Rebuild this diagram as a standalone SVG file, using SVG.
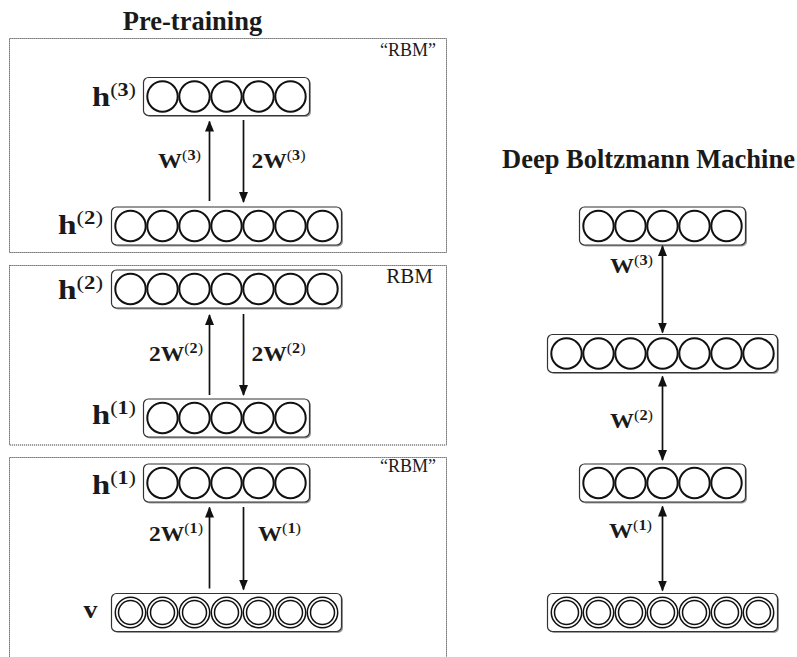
<svg xmlns="http://www.w3.org/2000/svg" xmlns:xlink="http://www.w3.org/1999/xlink" width="797" height="657" viewBox="0 0 797 657">
<style>
.frame{fill:none;stroke:#444;stroke-width:1;stroke-dasharray:1.2 0.8}
.bar{fill:#fff;stroke:#333;stroke-width:1.2}
.shadow{fill:#9a9a9a}
.u{fill:#fff;stroke:#111;stroke-width:2}
.vo{fill:#fff;stroke:#111;stroke-width:1.5}
.vi{fill:none;stroke:#111;stroke-width:1.5}
.t{font-family:"Liberation Serif","Times New Roman",serif;font-weight:bold;fill:#1a1a1a}
.title{font-size:26.5px;text-anchor:middle}
.hl{font-size:28px;text-anchor:end}
.hs{font-size:19px}
.wl{font-size:22px}
.ws{font-size:15px}
.n{font-weight:normal}
.rbm{font-family:"Liberation Serif","Times New Roman",serif;font-weight:normal;fill:#1a1a1a;text-anchor:end}
.edge{stroke:#111;stroke-width:1.7;fill:none}
.one{marker-end:url(#ah)}
.two{marker-start:url(#ah);marker-end:url(#ah)}
</style>
<defs>
<marker id="ah" markerUnits="userSpaceOnUse" markerWidth="11" markerHeight="9" refX="10" refY="4.5" orient="auto-start-reverse">
<path d="M0,0 L11,4.5 L0,9 z" fill="#111"/>
</marker>
<g id="bar5">
<rect class="shadow" x="1.5" y="1.5" width="166" height="38" rx="5"/>
<rect class="bar" x="0" y="0" width="166" height="38" rx="5"/>
<circle class="u" cx="19" cy="19" r="15.2"/><circle class="u" cx="51" cy="19" r="15.2"/><circle class="u" cx="83" cy="19" r="15.2"/><circle class="u" cx="115" cy="19" r="15.2"/><circle class="u" cx="147" cy="19" r="15.2"/>
</g>
<g id="bar7">
<rect class="shadow" x="1.5" y="1.5" width="230" height="38" rx="5"/>
<rect class="bar" x="0" y="0" width="230" height="38" rx="5"/>
<circle class="u" cx="19" cy="19" r="15.2"/><circle class="u" cx="51" cy="19" r="15.2"/><circle class="u" cx="83" cy="19" r="15.2"/><circle class="u" cx="115" cy="19" r="15.2"/><circle class="u" cx="147" cy="19" r="15.2"/><circle class="u" cx="179" cy="19" r="15.2"/><circle class="u" cx="211" cy="19" r="15.2"/>
</g>
<g id="vbar7">
<rect class="shadow" x="1.5" y="1.5" width="230" height="38" rx="5"/>
<rect class="bar" x="0" y="0" width="230" height="38" rx="5"/>
<circle class="vo" cx="19" cy="19" r="15.2"/><circle class="vi" cx="19" cy="19" r="12"/>
<circle class="vo" cx="51" cy="19" r="15.2"/><circle class="vi" cx="51" cy="19" r="12"/>
<circle class="vo" cx="83" cy="19" r="15.2"/><circle class="vi" cx="83" cy="19" r="12"/>
<circle class="vo" cx="115" cy="19" r="15.2"/><circle class="vi" cx="115" cy="19" r="12"/>
<circle class="vo" cx="147" cy="19" r="15.2"/><circle class="vi" cx="147" cy="19" r="12"/>
<circle class="vo" cx="179" cy="19" r="15.2"/><circle class="vi" cx="179" cy="19" r="12"/>
<circle class="vo" cx="211" cy="19" r="15.2"/><circle class="vi" cx="211" cy="19" r="12"/>
</g>
</defs>
<rect width="797" height="657" fill="#fff"/>

<g id="titles">
<text class="t title" x="192.5" y="30">Pre-training</text>
<text class="t title" x="648.5" y="168">Deep Boltzmann Machine</text>
</g>

<g id="frames">
<rect class="frame" x="9.5" y="38.5" width="437" height="214"/>
<rect class="frame" x="9.5" y="265.5" width="437" height="179.5"/>
<rect class="frame" x="9.5" y="457.5" width="437" height="215"/>
<text class="rbm" x="436" y="56" font-size="18">“RBM”</text>
<text class="rbm" x="433" y="283" font-size="21">RBM</text>
<text class="rbm" x="436" y="472" font-size="18">“RBM”</text>
</g>

<g id="p1-h3"><use xlink:href="#bar5" x="143.5" y="77.5"/>
<text class="t hl" x="136" y="106" textLength="44" lengthAdjust="spacingAndGlyphs">h<tspan class="hs" dy="-10"><tspan class="n">(</tspan>3<tspan class="n">)</tspan></tspan></text></g>
<g id="p1-h2"><use xlink:href="#bar7" x="111.5" y="207"/>
<text class="t hl" x="103" y="234" textLength="45" lengthAdjust="spacingAndGlyphs">h<tspan class="hs" dy="-10"><tspan class="n">(</tspan>2<tspan class="n">)</tspan></tspan></text></g>
<g id="p2-h2"><use xlink:href="#bar7" x="111.5" y="270"/>
<text class="t hl" x="103" y="299" textLength="45" lengthAdjust="spacingAndGlyphs">h<tspan class="hs" dy="-10"><tspan class="n">(</tspan>2<tspan class="n">)</tspan></tspan></text></g>
<g id="p2-h1"><use xlink:href="#bar5" x="143.5" y="399"/>
<text class="t hl" x="136" y="424" textLength="44" lengthAdjust="spacingAndGlyphs">h<tspan class="hs" dy="-10"><tspan class="n">(</tspan>1<tspan class="n">)</tspan></tspan></text></g>
<g id="p3-h1"><use xlink:href="#bar5" x="143.5" y="464"/>
<text class="t hl" x="136" y="494" textLength="44" lengthAdjust="spacingAndGlyphs">h<tspan class="hs" dy="-10"><tspan class="n">(</tspan>1<tspan class="n">)</tspan></tspan></text></g>
<g id="p3-v"><use xlink:href="#vbar7" x="111.5" y="593.5"/>
<text class="t hl" x="97.5" y="618" style="font-size:25px" textLength="14" lengthAdjust="spacingAndGlyphs">v</text></g>

<g id="dbm-h3"><use xlink:href="#bar5" x="579.5" y="207"/></g>
<g id="dbm-h2"><use xlink:href="#bar7" x="547.5" y="334.5"/></g>
<g id="dbm-h1"><use xlink:href="#bar5" x="579.5" y="464"/></g>
<g id="dbm-v"><use xlink:href="#vbar7" x="547.5" y="593.5"/></g>

<g id="connectors">
<line class="edge one" x1="209.5" y1="201" x2="209.5" y2="121.5"/>
<line class="edge one" x1="243.5" y1="120" x2="243.5" y2="202"/>
<line class="edge one" x1="209.5" y1="395" x2="209.5" y2="315"/>
<line class="edge one" x1="243.5" y1="314" x2="243.5" y2="395"/>
<line class="edge one" x1="209.5" y1="588.5" x2="209.5" y2="507.5"/>
<line class="edge one" x1="243.5" y1="507" x2="243.5" y2="589.5"/>
<line class="edge two" x1="662.5" y1="246" x2="662.5" y2="332.5"/>
<line class="edge two" x1="662.5" y1="376.5" x2="662.5" y2="460"/>
<line class="edge two" x1="662.5" y1="506.5" x2="662.5" y2="590.5"/>
<text class="t wl" x="201" y="168" text-anchor="end" textLength="43" lengthAdjust="spacingAndGlyphs">W<tspan class="ws" dy="-8"><tspan class="n">(</tspan>3<tspan class="n">)</tspan></tspan></text>
<text class="t wl" x="251.5" y="168" textLength="54" lengthAdjust="spacingAndGlyphs">2W<tspan class="ws" dy="-8"><tspan class="n">(</tspan>3<tspan class="n">)</tspan></tspan></text>
<text class="t wl" x="203" y="361" text-anchor="end" textLength="54" lengthAdjust="spacingAndGlyphs">2W<tspan class="ws" dy="-8"><tspan class="n">(</tspan>2<tspan class="n">)</tspan></tspan></text>
<text class="t wl" x="251.5" y="361" textLength="54" lengthAdjust="spacingAndGlyphs">2W<tspan class="ws" dy="-8"><tspan class="n">(</tspan>2<tspan class="n">)</tspan></tspan></text>
<text class="t wl" x="203" y="541" text-anchor="end" textLength="54" lengthAdjust="spacingAndGlyphs">2W<tspan class="ws" dy="-8"><tspan class="n">(</tspan>1<tspan class="n">)</tspan></tspan></text>
<text class="t wl" x="258" y="541" textLength="43" lengthAdjust="spacingAndGlyphs">W<tspan class="ws" dy="-8"><tspan class="n">(</tspan>1<tspan class="n">)</tspan></tspan></text>
<text class="t wl" x="653" y="273" text-anchor="end" textLength="43" lengthAdjust="spacingAndGlyphs">W<tspan class="ws" dy="-8"><tspan class="n">(</tspan>3<tspan class="n">)</tspan></tspan></text>
<text class="t wl" x="653" y="428" text-anchor="end" textLength="43" lengthAdjust="spacingAndGlyphs">W<tspan class="ws" dy="-8"><tspan class="n">(</tspan>2<tspan class="n">)</tspan></tspan></text>
<text class="t wl" x="652" y="538" text-anchor="end" textLength="43" lengthAdjust="spacingAndGlyphs">W<tspan class="ws" dy="-8"><tspan class="n">(</tspan>1<tspan class="n">)</tspan></tspan></text>
</g>
</svg>
